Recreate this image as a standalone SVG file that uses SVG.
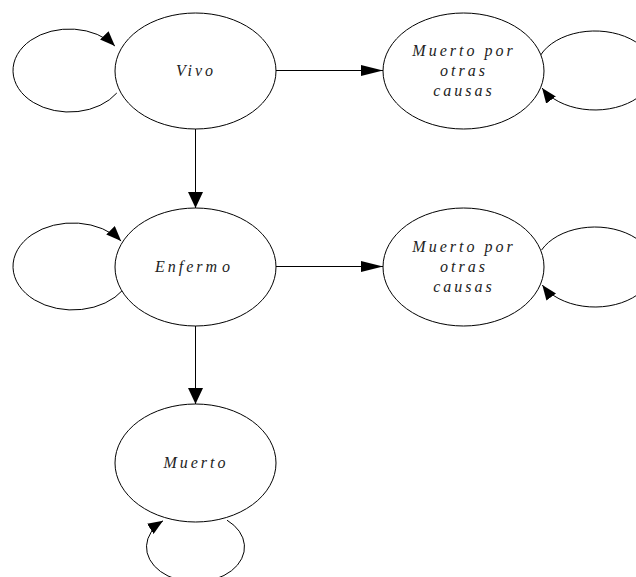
<svg xmlns="http://www.w3.org/2000/svg" width="636" height="577" viewBox="0 0 636 577">
  <style>
    .state { fill: #ffffff; stroke: #000000; stroke-width: 1; }
    .edge { fill: none; stroke: #000000; stroke-width: 1; }
    .label { font-family: "Liberation Serif", "Times New Roman", serif; font-style: italic; font-size: 16px; letter-spacing: 3px; fill: #222222; text-anchor: middle; }
  </style>
  <defs>
    <!-- long, slim head for the horizontal transitions -->
    <marker id="headLong" viewBox="0 0 22 11" refX="22" refY="5.5" markerWidth="22" markerHeight="11" markerUnits="userSpaceOnUse" orient="auto">
      <path d="M0,0 L22,5.5 L0,11 Z" fill="#000000"/>
    </marker>
    <!-- wide head for the vertical transitions -->
    <marker id="headWide" viewBox="0 0 16 15" refX="16" refY="7.5" markerWidth="16" markerHeight="15" markerUnits="userSpaceOnUse" orient="auto">
      <path d="M0,0 L16,7.5 L0,15 Z" fill="#000000"/>
    </marker>
    <!-- head for the self-loops -->
    <marker id="headLoop" viewBox="0 0 15 12" refX="15" refY="6" markerWidth="15" markerHeight="12" markerUnits="userSpaceOnUse" orient="auto">
      <path d="M0,0 L15,6 L0,12 Z" fill="#000000"/>
    </marker>
  </defs>

  <rect width="636" height="577" fill="#ffffff"/>

  <g id="connectors">
    <!-- self-loops -->
    <path class="edge" d="M 116.8 93 A 56.4 41.5 0 1 1 114.9 46" marker-end="url(#headLoop)"/>
    <path class="edge" d="M 122.9 290 A 59.7 43.5 0 1 1 121.1 241" marker-end="url(#headLoop)"/>
    <path class="edge" d="M 540.7 55 A 59 39.5 0 1 1 542.1 88" marker-end="url(#headLoop)"/>
    <path class="edge" d="M 541.6 250 A 59 40 0 1 1 542.3 285" marker-end="url(#headLoop)"/>
    <path class="edge" d="M 227 520.2 A 49 35 0 1 1 163 520.8" marker-end="url(#headLoop)"/>
    <!-- transitions between states -->
    <line class="edge" x1="276" y1="70.5" x2="383" y2="70.5" marker-end="url(#headLong)"/>
    <line class="edge" x1="276" y1="266.5" x2="383" y2="266.5" marker-end="url(#headLong)"/>
    <line class="edge" x1="195.5" y1="129" x2="195.5" y2="208" marker-end="url(#headWide)"/>
    <line class="edge" x1="195.5" y1="326" x2="195.5" y2="404" marker-end="url(#headWide)"/>
  </g>

  <g id="vivo">
    <ellipse class="state" cx="195.5" cy="71" rx="80.5" ry="58"/>
    <text class="label" x="196" y="76">Vivo</text>
  </g>

  <g id="muerto-otras-1">
    <ellipse class="state" cx="463.5" cy="71" rx="80.5" ry="58"/>
    <text class="label" x="464" y="56">Muerto por</text>
    <text class="label" x="464" y="76">otras</text>
    <text class="label" x="464" y="96">causas</text>
  </g>

  <g id="enfermo">
    <ellipse class="state" cx="195.5" cy="267" rx="80.5" ry="59"/>
    <text class="label" x="194" y="272">Enferm<tspan dx="2">o</tspan></text>
  </g>

  <g id="muerto-otras-2">
    <ellipse class="state" cx="463.5" cy="267" rx="80.5" ry="59"/>
    <text class="label" x="464" y="252">Muerto por</text>
    <text class="label" x="464" y="272">otras</text>
    <text class="label" x="464" y="292">causas</text>
  </g>

  <g id="muerto">
    <ellipse class="state" cx="195.5" cy="463" rx="80.5" ry="59"/>
    <text class="label" x="196" y="468">Muerto</text>
  </g>
</svg>
